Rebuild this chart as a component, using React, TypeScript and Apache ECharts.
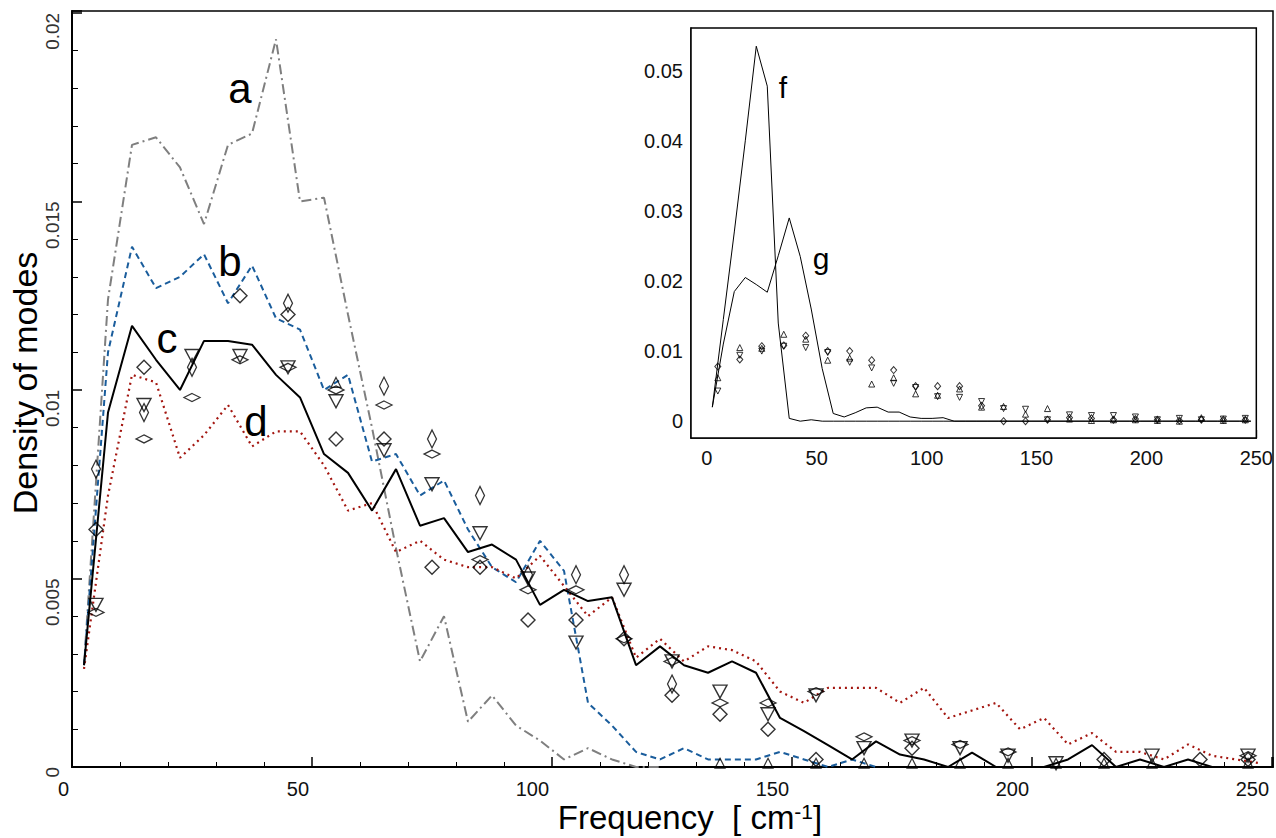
import React, { useEffect, useRef } from "react";
import * as echarts from "echarts";

// ---------- main panel data ----------
const lineX = [2.5, 7.5, 12.5, 17.5, 22.5, 27.5, 32.5, 37.5, 42.5, 47.5,
  52.5, 57.5, 62.5, 67.5, 72.5, 77.5, 82.5, 87.5, 92.5, 97.5,
  102.5, 107.5, 112.5, 117.5, 122.5, 127.5, 132.5, 137.5, 142.5, 147.5,
  152.5, 157.5, 162.5, 167.5, 172.5, 177.5, 182.5, 187.5, 192.5, 197.5,
  202.5, 207.5, 212.5, 217.5, 222.5, 227.5, 232.5, 237.5, 242.5, 247.5];

const curveA = [0.0027, 0.0124, 0.0165, 0.0167, 0.0159, 0.0144, 0.0165, 0.0168, 0.0193, 0.0150,
  0.0151, 0.0120, 0.0090, 0.0058, 0.0028, 0.0040, 0.0012, 0.0019, 0.0011, 0.0007,
  0.0002, 0.0005, 0.0002, 0.0, 0.0];

const curveB = [0.0027, 0.0110, 0.0138, 0.0127, 0.0130, 0.0136, 0.0123, 0.0133, 0.0119, 0.0116,
  0.0100, 0.0104, 0.0081, 0.0083, 0.0072, 0.0076, 0.0063, 0.0053, 0.0049, 0.0060,
  0.0052, 0.0017, 0.0011, 0.0004, 0.0002, 0.0005, 0.0002, 0.0002, 0.0002, 0.0004,
  0.0002, 0.0, 0.0002, 0.0];

const curveC = [0.0027, 0.0094, 0.0117, 0.0108, 0.0100, 0.0113, 0.0113, 0.0112, 0.0104, 0.0098,
  0.0083, 0.0078, 0.0068, 0.0079, 0.0064, 0.0066, 0.0057, 0.0059, 0.0055, 0.0043,
  0.0047, 0.0044, 0.0045, 0.0027, 0.0032, 0.0027, 0.0025, 0.0028, 0.0025, 0.0013,
  0.00095, 0.00058, 0.0002, 0.00068, 0.00033, 0.0002, 0.0, 0.00038, 0.0, 0.0,
  0.0, 0.0002, 0.00058, 0.0, 0.0002, 0.0, 0.0002, 0.0, 0.0, 0.0];

const curveD = [0.0026, 0.0072, 0.0104, 0.0102, 0.0082, 0.0088, 0.0096, 0.0085, 0.0089, 0.0089,
  0.0080, 0.0068, 0.0070, 0.0057, 0.0060, 0.0055, 0.0053, 0.0053, 0.0050, 0.0056,
  0.0048, 0.0040, 0.0045, 0.0029, 0.0034, 0.0028, 0.0032, 0.0031, 0.0028, 0.0020,
  0.0017, 0.0021, 0.0021, 0.0021, 0.0017, 0.0021, 0.0013, 0.0015, 0.0017, 0.0010,
  0.0013, 0.0006, 0.0009, 0.0004, 0.0004, 0.0002, 0.0006, 0.0003, 0.0002, 0.0001];

const markerX = [5, 15, 25, 35, 45, 55, 65, 75, 85, 95, 105, 115, 125,
  135, 145, 155, 165, 175, 185, 195, 205, 215, 225, 235, 245];

const mainTallDiamond = [0.0079, 0.0094, 0.0106, null, 0.0123, null, 0.0101, 0.0087, 0.0072, 0.0051, 0.0051, 0.0051, 0.0022,
  null, null, null, null, null, null, null, null, null, null, null, null];
const mainDiamond = [0.0063, 0.0106, null, 0.0125, 0.0120, 0.0087, 0.0087, 0.0053, 0.0053, 0.0039, 0.0039, 0.0034, 0.0019,
  0.0014, 0.0010, 0.0002, null, 0.0005, null, null, null, 0.0002, null, 0.0002, 0.0002];
const mainFlatDiamond = [0.0041, 0.0087, 0.0098, 0.0108, 0.0106, 0.0100, 0.0096, 0.0083, 0.0055, 0.0047, 0.0047, 0.0034, 0.0028,
  0.0017, 0.0017, 0.0020, 0.0008, 0.0007, 0.0006, 0.0004, null, null, null, null, 0.0003];
const mainTriDown = [0.0043, 0.0096, 0.0109, 0.0109, 0.0106, 0.0097, 0.0084, 0.0075, 0.0062, 0.0050, 0.0033, 0.0047, 0.0028,
  0.0020, 0.0014, 0.0019, 0.0005, 0.0007, 0.0005, 0.0003, 0.0001, null, 0.0003, null, 0.0003];
const mainTriUp = [null, null, null, null, null, 0.0102, null, null, null, null, null, null, null,
  0.0001, 0.0001, 0.0001, 0.0001, 0.0001, 0.0001, 0.0001, 0.0001, 0.0001, 0.0001, null, 0.0001];

// ---------- inset data ----------
const insetF = [0.0020, 0.0145, 0.0270, 0.0400, 0.0535, 0.0478, 0.0140, 0.0004, 0.0, 0.0002,
  0, 0, 0, 0, 0, 0, 0, 0, 0, 0,
  0, 0, 0, 0, 0, 0, 0, 0, 0, 0,
  0, 0, 0, 0, 0, 0, 0, 0, 0, 0,
  0, 0, 0, 0, 0, 0, 0, 0, 0, 0];
const insetG = [0.0020, 0.0110, 0.0185, 0.0205, 0.0195, 0.0184, 0.0236, 0.0290, 0.0235, 0.0160,
  0.0075, 0.0011, 0.0006, 0.0012, 0.0019, 0.0020, 0.0013, 0.0013, 0.0006, 0.0004,
  0.0004, 0.0005, 0.0, 0, 0, 0, 0, 0, 0, 0,
  0, 0, 0, 0, 0, 0, 0, 0, 0, 0,
  0, 0, 0, 0, 0, 0, 0, 0, 0, 0];
const insetDiamond = [0.0078, 0.0088, 0.0107, 0.0108, 0.0122, 0.0100, 0.0100, 0.0087, 0.0073, 0.0050, 0.0050, 0.0050, 0.0022,
  0.0, 0.0, 0.0002, 0.0005, 0.0004, 0.0002, 0.0003, 0.0002, 0.0001, 0.0002, 0.0002, 0.0002];
const insetTriUp = [0.0062, 0.0105, 0.0104, 0.0124, 0.0117, 0.0087, 0.0090, 0.0053, 0.0062, 0.0039, 0.0037, 0.0046, 0.0020,
  0.0021, 0.0010, 0.0018, 0.0003, 0.0001, 0.0002, 0.0002, 0.0001, 0.0, 0.0005, 0.0001, 0.0002];
const insetTriDown = [0.0043, 0.0094, 0.0100, 0.0107, 0.0105, 0.0098, 0.0084, 0.0076, 0.0054, 0.0048, 0.0035, 0.0034, 0.0028,
  0.0018, 0.0017, 0.0002, 0.0009, 0.0008, 0.0008, 0.0006, 0.0002, 0.0004, 0.0002, 0.0003, 0.0004];

// inset tick positions
const insetXMajor = [0, 50, 100, 150, 200, 250];
const insetXMinor = [10, 20, 30, 40, 60, 70, 80, 90, 110, 120, 130, 140, 160, 170, 180, 190, 210, 220, 230, 240];
const insetYMajor = [0, 0.01, 0.02, 0.03, 0.04, 0.05];
const insetYMinor = [-0.002, 0.002, 0.004, 0.006, 0.008, 0.012, 0.014, 0.016, 0.018, 0.022, 0.024, 0.026, 0.028,
  0.032, 0.034, 0.036, 0.038, 0.042, 0.044, 0.046, 0.048, 0.052, 0.054];

const FONT = '"Liberation Sans", Arial, Helvetica, sans-serif';

function pairs(xs: number[], ys: (number | null)[]) {
  const out: number[][] = [];
  ys.forEach((y, i) => {
    if (y !== null && y !== undefined) out.push([xs[i], y]);
  });
  return out;
}

export default function App() {
  const ref = useRef<HTMLDivElement>(null);
  useEffect(() => {
    document.body.style.margin = "0";
    if (!ref.current) return;
    const chart = echarts.init(ref.current, undefined, { renderer: "svg" });

    const hollow = { color: "rgba(0,0,0,0)", borderColor: "#000", borderWidth: 1.4 };
    const lineSeries = (name: string, ys: number[], color: string, type: any, width: number, xi: number, yi: number, z = 2) => ({
      name,
      type: "line",
      xAxisIndex: xi,
      yAxisIndex: yi,
      data: pairs(lineX, ys),
      showSymbol: false,
      symbol: "none",
      z,
      lineStyle: { color, type, width, cap: "butt" },
    });
    const scatter = (ys: (number | null)[], symbol: string, size: any, rotate: number, xi: number, yi: number, bw: number) => ({
      type: "scatter",
      xAxisIndex: xi,
      yAxisIndex: yi,
      data: pairs(markerX, ys),
      symbol,
      symbolSize: size,
      symbolRotate: rotate,
      z: 5,
      itemStyle: { ...hollow, borderWidth: bw },
    });

    const option: any = {
      animation: false,
      backgroundColor: "#fff",
      textStyle: { fontFamily: FONT },
      grid: [
        { left: 72, top: 11, width: 1201, height: 756, show: true, borderColor: "#000", borderWidth: 1.5, backgroundColor: "rgba(0,0,0,0)" },
        { left: 691, top: 28, width: 569, height: 410, show: true, borderColor: "#000", borderWidth: 1.5, backgroundColor: "#fff", z: 10 },
      ],
      xAxis: [
        {
          type: "value", gridIndex: 0, min: 0, max: 250.2, interval: 50,
          axisLine: { lineStyle: { color: "#000", width: 2 } },
          axisTick: { inside: true, length: 10, lineStyle: { color: "#000", width: 1.5 } },
          minorTick: { show: true, splitNumber: 5, length: 5, lineStyle: { color: "#000", width: 1 } },
          axisLabel: { color: "#111", fontSize: 20, fontFamily: FONT, margin: 12, align: "right", padding: [0, 3, 0, 0] },
          splitLine: { show: false },
        },
        {
          type: "value", gridIndex: 1, min: -7.2, max: 250,
          axisLine: { onZero: false, lineStyle: { color: "#000", width: 1.5 } },
          axisTick: { inside: true, length: 8, customValues: insetXMajor, lineStyle: { color: "#000", width: 1.3 } },
          axisLabel: { customValues: insetXMajor, color: "#111", fontSize: 20, fontFamily: FONT, margin: 10 },
          splitLine: { show: false },
        },
        {
          type: "value", gridIndex: 1, min: -7.2, max: 250,
          axisLine: { show: false, onZero: false },
          axisTick: { inside: true, length: 4, customValues: insetXMinor, lineStyle: { color: "#000", width: 1 } },
          axisLabel: { show: false },
          splitLine: { show: false },
        },
      ],
      yAxis: [
        {
          type: "value", gridIndex: 0, min: 0, max: 0.02005, interval: 0.005,
          axisLine: { lineStyle: { color: "#000", width: 2 } },
          axisTick: { inside: true, length: 10, lineStyle: { color: "#000", width: 1.5 } },
          minorTick: { show: true, splitNumber: 5, length: 6, lineStyle: { color: "#000", width: 1 } },
          axisLabel: { color: "#333", fontSize: 19, fontFamily: FONT, rotate: 90, margin: 10, align: "right", verticalAlign: "bottom" },
          splitLine: { show: false },
        },
        {
          type: "value", gridIndex: 1, min: -0.0024, max: 0.0561,
          axisLine: { onZero: false, lineStyle: { color: "#000", width: 1.5 } },
          axisTick: { inside: true, length: 10, customValues: insetYMajor, lineStyle: { color: "#000", width: 1.3 } },
          axisLabel: { customValues: insetYMajor, color: "#111", fontSize: 20, fontFamily: FONT, margin: 8 },
          splitLine: { show: false },
        },
        {
          type: "value", gridIndex: 1, min: -0.0024, max: 0.0561,
          axisLine: { show: false, onZero: false },
          axisTick: { inside: true, length: 5, customValues: insetYMinor, lineStyle: { color: "#000", width: 1 } },
          axisLabel: { show: false },
          splitLine: { show: false },
        },
      ],
      series: [
        lineSeries("a", curveA, "#7f7f7f", [10, 4, 2, 4], 2, 0, 0),
        lineSeries("b", curveB, "#1a5d9c", [6, 4], 2, 0, 0),
        lineSeries("d", curveD, "#a3150f", [2, 4], 2.2, 0, 0),
        lineSeries("c", curveC, "#000000", "solid", 2, 0, 0, 3),
        scatter(mainTallDiamond, "diamond", [9, 18], 0, 0, 0, 1.4),
        scatter(mainDiamond, "diamond", [14, 14], 0, 0, 0, 1.4),
        scatter(mainFlatDiamond, "diamond", [16, 8], 0, 0, 0, 1.4),
        scatter(mainTriDown, "triangle", [14, 13], 180, 0, 0, 1.4),
        scatter(mainTriUp, "triangle", [10, 10], 0, 0, 0, 1.2),
        { ...lineSeries("f", insetF, "#000", "solid", 1, 1, 1), z: 12 },
        { ...lineSeries("g", insetG, "#000", "solid", 1, 1, 1), z: 12 },
        { ...scatter(insetDiamond, "diamond", [6, 7], 0, 1, 1, 1), z: 13 },
        { ...scatter(insetTriUp, "triangle", [6, 6], 0, 1, 1, 1), z: 13 },
        { ...scatter(insetTriDown, "triangle", [6, 6], 180, 1, 1, 1), z: 13 },
      ],
      graphic: [
        { type: "text", x: 240, y: 88, z: 20, style: { text: "a", fontSize: 42, fontFamily: FONT, fill: "#000", align: "center", verticalAlign: "middle" } },
        { type: "text", x: 230, y: 261, z: 20, style: { text: "b", fontSize: 42, fontFamily: FONT, fill: "#000", align: "center", verticalAlign: "middle" } },
        { type: "text", x: 167, y: 338, z: 20, style: { text: "c", fontSize: 42, fontFamily: FONT, fill: "#000", align: "center", verticalAlign: "middle" } },
        { type: "text", x: 256, y: 421, z: 20, style: { text: "d", fontSize: 42, fontFamily: FONT, fill: "#000", align: "center", verticalAlign: "middle" } },
        { type: "text", x: 783, y: 87, z: 30, style: { text: "f", fontSize: 30, fontFamily: FONT, fill: "#000", align: "center", verticalAlign: "middle" } },
        { type: "text", x: 821, y: 258, z: 30, style: { text: "g", fontSize: 30, fontFamily: FONT, fill: "#000", align: "center", verticalAlign: "middle" } },
        {
          type: "text", x: 25, y: 383, rotation: Math.PI / 2, z: 20,
          style: { text: "Density of modes", fontSize: 34, fontFamily: FONT, fill: "#000", align: "center", verticalAlign: "middle" },
        },
        {
          type: "text", x: 690, y: 817, z: 20,
          style: {
            text: "Frequency  [ cm{sup|-1}]", fontSize: 33, fontFamily: FONT, fill: "#000", align: "center", verticalAlign: "middle",
            rich: { sup: { fontSize: 21, fontFamily: FONT, fill: "#000", verticalAlign: "top", lineHeight: 33 } },
          },
        },
      ],
    };
    chart.setOption(option);
    return () => chart.dispose();
  }, []);
  return <div ref={ref} style={{ position: "absolute", left: 0, top: 0, width: 1276, height: 838 }} />;
}
